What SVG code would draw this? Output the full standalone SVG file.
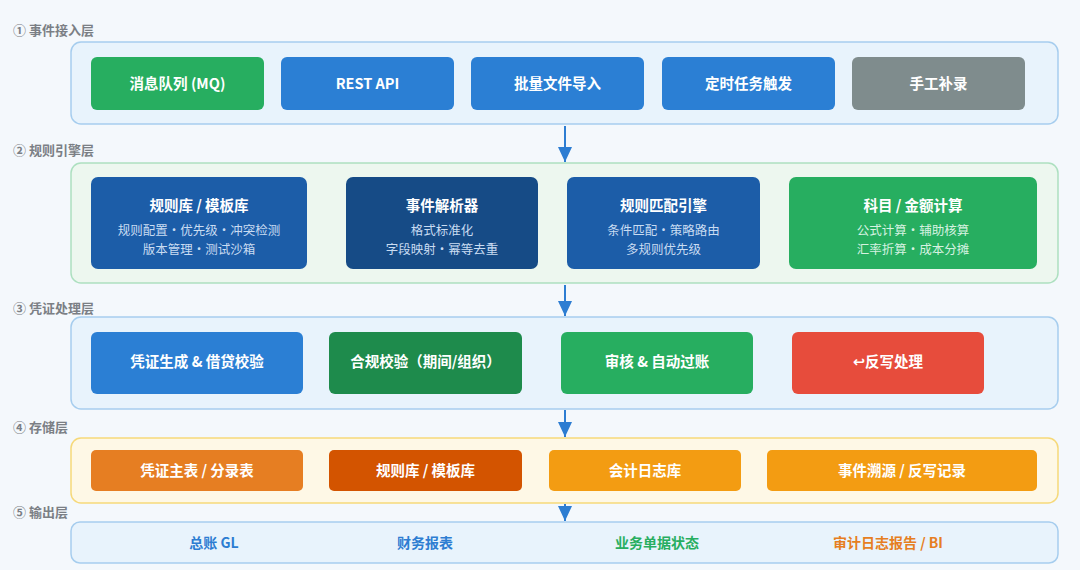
<svg xmlns="http://www.w3.org/2000/svg" width="1080" height="570" viewBox="0 0 1080 570">
<style>
text{font-family:"Noto Sans CJK SC","Noto Sans",sans-serif;font-weight:bold;text-anchor:middle}
.lbl{font-size:13px;fill:#7b7f85;text-anchor:start}
.bt{font-size:14.5px;fill:#ffffff}
.st{font-size:12.5px;fill:#c9dcf2;font-weight:normal}
.stg{font-size:12.5px;fill:#d6f2e0;font-weight:normal}
.cblue{fill:#e8f3fc;stroke:#a6cdee;stroke-width:1.5}
.cgreen{fill:#edf7ef;stroke:#ade0c0;stroke-width:1.5}
.cyel{fill:#fef8e6;stroke:#f6d97a;stroke-width:1.5}
.ot{font-size:14px}
.arr{stroke:#2d7dd2;stroke-width:2;fill:none}
</style>
<defs>
<marker id="ah" markerWidth="15" markerHeight="14" refX="15" refY="7" orient="auto" markerUnits="userSpaceOnUse" viewBox="0 0 15 14">
<path d="M0,0 L15,7 L0,14 Z" fill="#2d7dd2"/>
</marker>
</defs>
<rect width="1080" height="570" fill="#f4f8fc"/>

<g id="layer1">
<text class="lbl" x="13" y="35">① 事件接入层</text>
<rect class="cblue" x="71" y="42" width="987" height="82" rx="10"/>
<g id="n-mq"><rect x="91" y="57" width="173" height="53" rx="6" fill="#27ae60"/><text class="bt" x="177.5" y="88.5">消息队列 (MQ)</text></g>
<g id="n-rest"><rect x="281" y="57" width="173" height="53" rx="6" fill="#2b7fd4"/><text class="bt" x="367.5" y="88.5">REST API</text></g>
<g id="n-batch"><rect x="471" y="57" width="173" height="53" rx="6" fill="#2b7fd4"/><text class="bt" x="557.5" y="88.5">批量文件导入</text></g>
<g id="n-timer"><rect x="662" y="57" width="173" height="53" rx="6" fill="#2b7fd4"/><text class="bt" x="748.5" y="88.5">定时任务触发</text></g>
<g id="n-manual"><rect x="852" y="57" width="173" height="53" rx="6" fill="#7f8c8d"/><text class="bt" x="938.5" y="88.5">手工补录</text></g>
</g>

<g id="layer2">
<text class="lbl" x="13" y="155">② 规则引擎层</text>
<rect class="cgreen" x="71" y="163" width="987" height="120" rx="10"/>
<g id="n-rulelib"><rect x="91" y="177" width="216" height="92" rx="7" fill="#1c5da8"/><text class="bt" x="199" y="211">规则库 / 模板库</text><text class="st" x="199" y="235">规则配置・优先级・冲突检测</text><text class="st" x="199" y="254">版本管理・测试沙箱</text></g>
<g id="n-parser"><rect x="346" y="177" width="192" height="92" rx="7" fill="#164b86"/><text class="bt" x="442" y="211">事件解析器</text><text class="st" x="442" y="235">格式标准化</text><text class="st" x="442" y="254">字段映射・幂等去重</text></g>
<g id="n-match"><rect x="567" y="177" width="193" height="92" rx="7" fill="#1c5da8"/><text class="bt" x="663.5" y="211">规则匹配引擎</text><text class="st" x="663.5" y="235">条件匹配・策略路由</text><text class="st" x="663.5" y="254">多规则优先级</text></g>
<g id="n-calc"><rect x="789" y="177" width="248" height="92" rx="7" fill="#27ae60"/><text class="bt" x="913" y="211">科目 / 金额计算</text><text class="stg" x="913" y="235">公式计算・辅助核算</text><text class="stg" x="913" y="254">汇率折算・成本分摊</text></g>
</g>

<g id="layer3">
<text class="lbl" x="13" y="313">③ 凭证处理层</text>
<rect class="cblue" x="71" y="317" width="987" height="92" rx="10"/>
<g id="n-gen"><rect x="91" y="332" width="212" height="62" rx="6" fill="#2b7fd4"/><text class="bt" x="197" y="367">凭证生成 &amp; 借贷校验</text></g>
<g id="n-comp"><rect x="329" y="332" width="193" height="62" rx="6" fill="#1e8b4c"/><text class="bt" x="425.5" y="367">合规校验（期间/组织）</text></g>
<g id="n-audit"><rect x="561" y="332" width="192" height="62" rx="6" fill="#27ae60"/><text class="bt" x="657" y="367">审核 &amp; 自动过账</text></g>
<g id="n-rev"><rect x="792" y="332" width="192" height="62" rx="6" fill="#e74c3c"/><text class="bt" x="888" y="367"><tspan style="font-family:'DejaVu Sans',sans-serif">↩</tspan>反写处理</text></g>
</g>

<g id="layer4">
<text class="lbl" x="13" y="432">④ 存储层</text>
<rect class="cyel" x="71" y="438" width="987" height="65" rx="10"/>
<g id="n-vouchers"><rect x="91" y="450" width="212" height="41" rx="5" fill="#e67e22"/><text class="bt" x="197" y="476">凭证主表 / 分录表</text></g>
<g id="n-rulestore"><rect x="329" y="450" width="193" height="41" rx="5" fill="#d35400"/><text class="bt" x="425.5" y="476">规则库 / 模板库</text></g>
<g id="n-journal"><rect x="549" y="450" width="192" height="41" rx="5" fill="#f39c12"/><text class="bt" x="645" y="476">会计日志库</text></g>
<g id="n-trace"><rect x="767" y="450" width="270" height="41" rx="5" fill="#f39c12"/><text class="bt" x="902" y="476">事件溯源 / 反写记录</text></g>
</g>

<g id="layer5">
<text class="lbl" x="13" y="517">⑤ 输出层</text>
<rect class="cblue" x="71" y="522" width="987" height="41" rx="9"/>
<g id="n-gl"><text class="ot" x="214" y="548" fill="#2d7dd2">总账 GL</text></g>
<g id="n-fin"><text class="ot" x="425" y="548" fill="#2d7dd2">财务报表</text></g>
<g id="n-biz"><text class="ot" x="657" y="548" fill="#27ae60">业务单据状态</text></g>
<g id="n-bi"><text class="ot" x="888" y="548" fill="#e67e22">审计日志报告 / BI</text></g>
</g>

<g id="connectors">
<line class="arr" x1="565" y1="126" x2="565" y2="162" marker-end="url(#ah)"/>
<line class="arr" x1="565" y1="285" x2="565" y2="316" marker-end="url(#ah)"/>
<line class="arr" x1="565" y1="410" x2="565" y2="437" marker-end="url(#ah)"/>
<line class="arr" x1="565" y1="504" x2="565" y2="521" marker-end="url(#ah)"/>
</g>
</svg>
